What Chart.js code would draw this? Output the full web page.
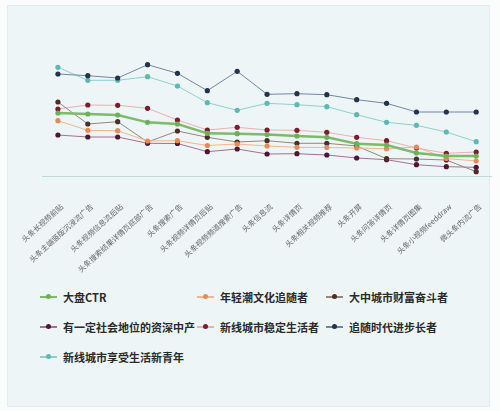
<!DOCTYPE html>
<html>
<head>
<meta charset="utf-8">
<script src="https://cdn.jsdelivr.net/npm/chart.js@4.4.1/dist/chart.umd.min.js"></script>
<style>
  html, body { margin: 0; padding: 0; background: #fbfcfc; }
  body { width: 500px; height: 411px; position: relative; overflow: hidden; font-family: "Noto Sans CJK SC", "Noto Sans", sans-serif; }
  .card { position: absolute; left: 7px; top: 5px; width: 481px; height: 400px; background: #edf5f7; border: 1px solid #e3edf0; }
  #wrap { position: absolute; left: 0; top: 0; width: 500px; height: 275px; }
  #legend { position: absolute; left: 40px; top: 287px; display: grid; grid-template-columns: 157px 129px 140px; row-gap: 10px; }
  .item { display: flex; align-items: center; height: 20px; font-size: 11px; font-weight: bold; color: #2b2b2b; white-space: nowrap; }
  .sym { position: relative; width: 17px; height: 1.5px; margin-right: 6px; }
  .sym i { position: absolute; left: 6px; top: -2px; width: 5px; height: 5px; border-radius: 50%; }
</style>
</head>
<body>
<div class="card"></div>
<div id="wrap"><canvas id="chart-ctr"></canvas></div>
<div id="legend"></div>
<script>
const categories = [
  '头条长视频前贴', '头条主端竖版沉浸流广告', '头条视频信息流后贴', '头条搜索结果详情页底部广告',
  '头条搜索广告', '头条视频详情页后贴', '头条视频频道搜索广告', '头条信息流', '头条详情页',
  '头条相关视频推荐', '头条开屏', '头条问答详情页', '头条详情页图集', '头条小视频feeddraw', '微头条内流广告'
];

// relative CTR (no axis shown)
const dapanCTR   = [6.3, 6.2, 6.1, 5.37, 5.2, 4.27, 4.23, 4.15, 4.0, 3.87, 3.23, 3.1, 2.3, 2.0, 2.0];
const chaoWenhua = [5.53, 4.57, 4.53, 3.5, 3.53, 3.05, 3.2, 3.0, 2.87, 2.85, 2.8, 2.73, 2.9, 1.75, 1.5];
const daZhongCity = [7.4, 5.2, 5.43, 3.4, 4.5, 3.87, 3.4, 3.53, 3.27, 3.27, 3.0, 1.73, 1.7, 1.6, 0.43];
const ziShenZhongchan = [4.1, 3.9, 3.9, 3.27, 3.25, 2.43, 2.7, 2.2, 2.23, 2.1, 1.8, 1.63, 1.13, 0.93, 0.87];
const xinXianWending = [6.7, 7.1, 7.07, 6.77, 5.6, 4.6, 4.87, 4.6, 4.57, 4.37, 3.87, 3.53, 2.8, 2.27, 2.4];
const zhuiSuiZhangzhe = [10.2, 10.03, 9.8, 11.13, 10.27, 8.53, 10.47, 8.17, 8.23, 8.13, 7.63, 7.27, 6.4, 6.4, 6.4];
const xinXianXiangshou = [10.87, 9.57, 9.57, 9.93, 9.0, 7.33, 6.57, 7.27, 7.13, 6.93, 6.13, 5.37, 5.07, 4.4, 3.43];

function series(label, data, line, dot, width) {
  return {
    label,
    data,
    borderColor: line,
    backgroundColor: dot,
    pointBackgroundColor: dot,
    pointBorderWidth: 0,
    pointRadius: 2.6,
    borderWidth: width || 1,
    tension: 0,
  };
}

const el = document.getElementById('chart-ctr');
const chart = new Chart(el, {
  type: 'line',
  data: {
    labels: categories,
    datasets: [
      series('大盘CTR', dapanCTR, '#7dbb69', '#6cb05a', 2.4),
      series('年轻潮文化追随者', chaoWenhua, '#f3b58d', '#e98a55'),
      series('大中城市财富奋斗者', daZhongCity, '#9c8378', '#4a2e26'),
      series('有一定社会地位的资深中产', ziShenZhongchan, '#a76f8c', '#4d1634'),
      series('新线城市稳定生活者', xinXianWending, '#e9b1ad', '#7c1c2c'),
      series('追随时代进步长者', zhuiSuiZhangzhe, '#6f86a2', '#22324f'),
      series('新线城市享受生活新青年', xinXianXiangshou, '#8fd0cc', '#5bb9b1'),
    ],
  },
  options: {
    responsive: true,
    maintainAspectRatio: false,
    animation: false,
    layout: { padding: { top: 46, left: 28.5, right: 8, bottom: 0 } },
    plugins: {
      legend: { display: false },
      tooltip: { enabled: false },
    },
    scales: {
      x: {
        offset: true,
        grid: { display: false },
        border: { color: '#bddbd7', width: 1 },
        ticks: {
          color: '#666',
          font: { size: 7.5, family: '"Noto Sans CJK SC", sans-serif' },
          minRotation: 42,
          maxRotation: 42,
          autoSkip: false,
          padding: 18,
          labelOffset: 4,
        },
        afterFit(scale) { scale.height = 99; },
      },
      y: { display: false, min: 0, max: 13 },
    },
  },
});

// legend laid out in fixed columns like the original
const legendEl = document.getElementById('legend');
chart.data.datasets.forEach((ds) => {
  const item = document.createElement('div');
  item.className = 'item';
  item.innerHTML = '<span class="sym" style="background:' + ds.borderColor + '"><i style="background:' +
    ds.pointBackgroundColor + '"></i></span>' + ds.label;
  legendEl.appendChild(item);
});
</script>
</body>
</html>
